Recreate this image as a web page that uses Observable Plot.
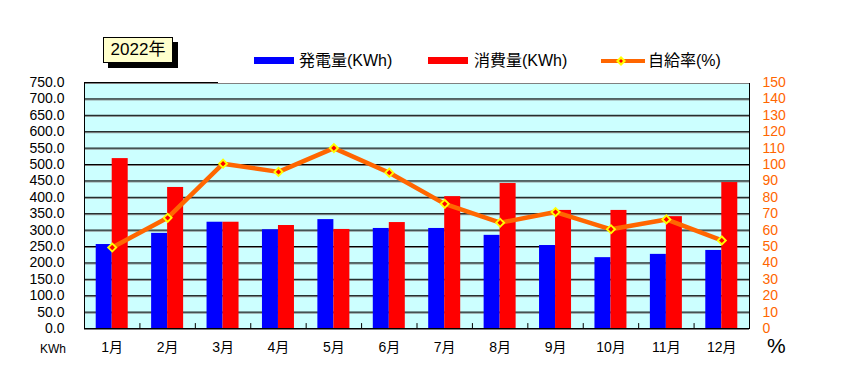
<!DOCTYPE html>
<html><head><meta charset="utf-8">
<script src="https://cdn.jsdelivr.net/npm/d3@7"></script>
<script src="https://cdn.jsdelivr.net/npm/@observablehq/plot@0.6"></script>
<style>
body{margin:0;background:#fff;}
#wrap{position:relative;width:844px;height:372px;overflow:hidden;font-family:"Liberation Sans","Noto Sans CJK JP",sans-serif;color:#000;}
#chart{position:absolute;left:0;top:0;}
.title{position:absolute;left:103px;top:37px;width:68px;height:24px;border:1px solid #000;background:#ffffcc;box-shadow:5px 5px 0 #000;font-size:17px;line-height:24px;text-align:center;}
.legend{position:absolute;left:218px;top:44px;width:540px;height:39px;background:#fff;}
.sw{position:absolute;height:7px;width:40px;top:57px;}
.lt{position:absolute;top:50px;font-size:16px;line-height:22px;white-space:nowrap;}
.unit{position:absolute;white-space:nowrap;}
</style>
</head><body>
<div id="wrap">
  <div id="chart"></div>
  <div class="legend"></div>
  <div class="title">2022年</div>
  <div class="sw" style="left:254px;background:#0000ff"></div>
  <div class="lt" style="left:299px">発電量(KWh)</div>
  <div class="sw" style="left:428px;background:#ff0000"></div>
  <div class="lt" style="left:474px">消費量(KWh)</div>
  <svg style="position:absolute;left:598px;top:52px" width="50" height="18">
    <line x1="3" y1="9" x2="47" y2="9" stroke="#ff6600" stroke-width="4"/>
    <path d="M23,4 L28,9 L23,14 L18,9 Z" fill="#ffff00"/>
    <path d="M23,7 L25,9 L23,11 L21,9 Z" fill="#ff0000"/>
  </svg>
  <div class="lt" style="left:648px">自給率(%)</div>
  <div class="unit" style="left:40px;top:341px;font-size:12px;line-height:16px">KWh</div>
  <div class="unit" style="left:767px;top:334px;font-size:21px;line-height:24px">%</div>
</div>
<script>
const months = ["1月","2月","3月","4月","5月","6月","7月","8月","9月","10月","11月","12月"];
const generation = [256, 290, 324, 301, 332, 305, 305, 284, 253, 216, 226, 238];
const consumption = [518, 430, 324, 314, 302, 323, 402, 442, 360, 360, 341, 445];
const selfRate = [49.4, 67.5, 100.5, 95.5, 110, 95, 76, 64.5, 71, 60.5, 66.5, 53.7];
const leftTicks = d3.range(0, 751, 50);

const W = 844, H = 372, mL = 84, mR = 95, mT = 82, mB = 44;
const bw = (W - mL - mR) / months.length;
const barW = 16;
const rateToKwh = 5; // 150% on the right axis ↔ 750 kWh on the left axis

const data = months.map((m, i) => ({month: m, gen: generation[i], use: consumption[i], rate: selfRate[i]}));

const chart = Plot.plot({
  width: W, height: H,
  marginLeft: mL, marginRight: mR, marginTop: mT, marginBottom: mB,
  style: {fontSize: "14px", fontFamily: '"Liberation Sans","Noto Sans CJK JP",sans-serif', background: "transparent", color: "#000"},
  x: {type: "band", domain: months, padding: 0, round: false, label: null},
  y: {domain: [0, 750], label: null},
  marks: [
    Plot.frame({fill: "#ccffff", stroke: null}),
    Plot.ruleY(leftTicks, {stroke: "#808080", dy: 1}),
    Plot.ruleY(leftTicks, {stroke: "#000"}),
    Plot.barY(data, {x: "month", y: "gen", fill: "#0000ff", insetLeft: bw / 2 - barW, insetRight: bw / 2}),
    Plot.barY(data, {x: "month", y: "use", fill: "#ff0000", insetLeft: bw / 2, insetRight: bw / 2 - barW}),
    Plot.ruleX(months.slice(0, -1), {x: d => d, y1: 0, y2: 15, dx: bw / 2, stroke: "#000"}),
    Plot.line(data, {x: "month", y: d => d.rate * rateToKwh, stroke: "#ff6600", strokeWidth: 4.5}),
    Plot.dot(data, {x: "month", y: d => d.rate * rateToKwh, symbol: "diamond2", r: 4.8, fill: "#ffff00", stroke: "none"}),
    Plot.dot(data, {x: "month", y: d => d.rate * rateToKwh, symbol: "diamond2", r: 2.4, fill: "#ff0000", stroke: "none"}),
    Plot.frame({stroke: "#000"}),
    Plot.axisY(leftTicks, {anchor: "left", tickSize: 0, tickPadding: 20, tickFormat: d3.format(".1f"), label: null}),
    Plot.axisY(leftTicks, {anchor: "right", tickSize: 0, tickPadding: 13, tickFormat: d => d / rateToKwh, color: "#ff6600", label: null}),
    Plot.axisX({tickSize: 0, tickPadding: 14, label: null})
  ]
});
document.getElementById("chart").appendChild(chart);
</script>
</body></html>
